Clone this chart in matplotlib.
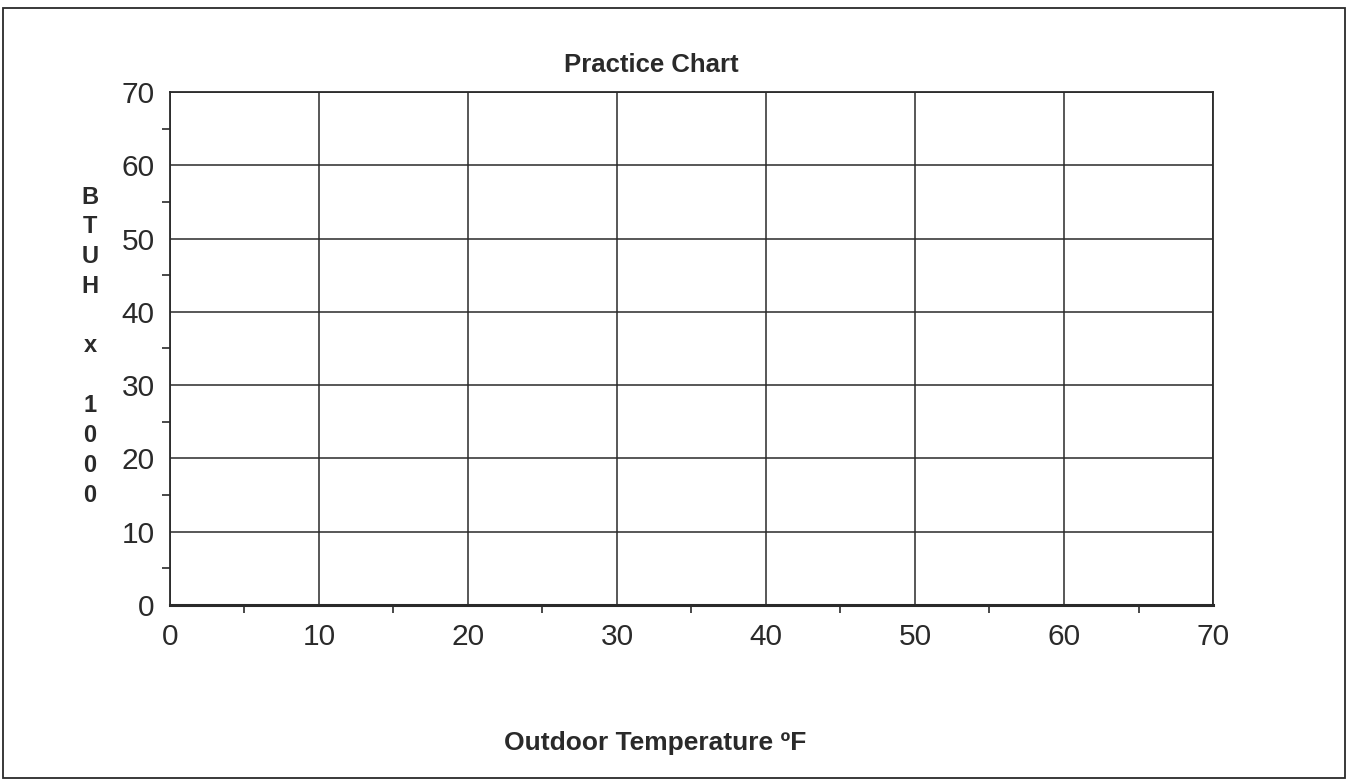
import numpy as np
import matplotlib.pyplot as plt
from matplotlib.patches import Rectangle

# Empty practice chart - just the grid, no series
x_ticks = [0, 10, 20, 30, 40, 50, 60, 70]
y_ticks = [0, 10, 20, 30, 40, 50, 60, 70]
x_minor = [5, 15, 25, 35, 45, 55, 65]
y_minor = [5, 15, 25, 35, 45, 55, 65]
title = "Practice Chart"
xlabel = "Outdoor Temperature \u00baF"
ylabel_letters = ["B", "T", "U", "H", "", "x", "", "1", "0", "0", "0"]

plt.rcParams['font.family'] = ['Liberation Sans', 'DejaVu Sans']
ink = '#2a2a2a'

fig = plt.figure(figsize=(13.52, 7.81), dpi=100)
ax = fig.add_axes([0.1257, 0.2254, 0.7715, 0.6568])

ax.set_xlim(x_ticks[0], x_ticks[-1])
ax.set_ylim(y_ticks[0], y_ticks[-1])
ax.set_xticks(x_ticks)
ax.set_yticks(y_ticks)
ax.set_xticks(x_minor, minor=True)
ax.set_yticks(y_minor, minor=True)
ax.tick_params(which='major', length=0, labelsize=21.5, colors=ink)
ax.tick_params(axis='x', which='major', pad=13)
ax.tick_params(axis='y', which='major', pad=11)
ax.tick_params(which='minor', length=6, width=1.2, color=ink, direction='out')
ax.grid(True, which='major', color=ink, linewidth=1.1)

for side, sp in ax.spines.items():
    sp.set_color(ink)
    sp.set_linewidth(1.3)
ax.spines['bottom'].set_linewidth(2.2)

fig.text(0.482, 0.9165, title, ha='center', va='center', fontsize=18.5,
         fontweight='bold', color=ink)
fig.text(0.4845, 0.049, xlabel, ha='center', va='center', fontsize=19,
         fontweight='bold', color=ink)

# stacked vertical y label
y0 = 1 - 197 / 781
step = (495 - 197) / 781 / (len(ylabel_letters) - 1)
for i, ch in enumerate(ylabel_letters):
    fig.text(0.0666, y0 - i * step, ch, ha='center', va='center',
             fontsize=17, fontweight='bold', color=ink)

# page border
fig.patches.append(Rectangle((0.0022, 0.0038), 0.9926, 0.986,
                             transform=fig.transFigure, fill=False,
                             edgecolor=ink, linewidth=1.3))

fig.savefig('out.png', dpi=100)
